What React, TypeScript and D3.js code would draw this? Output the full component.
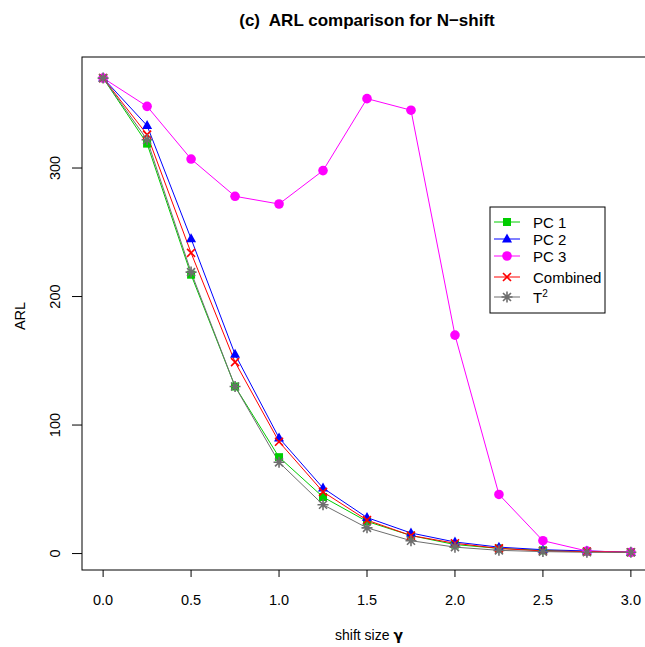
import React, { useEffect, useRef } from 'react'
import * as d3 from 'd3'

const shifts = [0, 0.25, 0.5, 0.75, 1, 1.25, 1.5, 1.75, 2, 2.25, 2.5, 2.75, 3]
const pc1 = [370, 319, 217, 130, 75, 44, 25, 14, 7, 4, 2.5, 1.5, 1]
const pc2 = [370, 333, 245, 155, 90, 51, 28, 16, 9, 5, 3, 2, 1]
const pc3 = [370, 348, 307, 278, 272, 298, 354, 345, 170, 46, 10, 2, 1]
const combined = [370, 326, 234, 149, 87, 48, 26, 14, 8, 4, 2, 1.5, 1]
const t2 = [370, 322, 219, 130, 71, 38, 20, 10, 5, 2.5, 1.5, 1, 1]

const xTicks = [0, 0.5, 1, 1.5, 2, 2.5, 3]
const yTicks = [0, 100, 200, 300]

const series = [
  { name: 'PC 1', values: pc1, color: '#00cd00', shape: 'square' },
  { name: 'PC 2', values: pc2, color: '#0000ff', shape: 'triangle' },
  { name: 'PC 3', values: pc3, color: '#ff00ff', shape: 'circle' },
  { name: 'Combined', values: combined, color: '#ff0000', shape: 'cross' },
  { name: 'T', values: t2, color: '#6e6e6e', shape: 'star' },
]

function drawMarker(g: any, shape: string, x: number, y: number, color: string) {
  if (shape === 'square') {
    g.append('rect').attr('x', x - 4).attr('y', y - 4).attr('width', 8).attr('height', 8).attr('fill', color)
  } else if (shape === 'triangle') {
    g.append('path').attr('d', `M${x},${y - 5.5}L${x + 5},${y + 3.5}L${x - 5},${y + 3.5}Z`).attr('fill', color)
  } else if (shape === 'circle') {
    g.append('circle').attr('cx', x).attr('cy', y).attr('r', 4.8).attr('fill', color)
  } else if (shape === 'cross') {
    g.append('path').attr('d', `M${x - 4},${y - 4}L${x + 4},${y + 4}M${x - 4},${y + 4}L${x + 4},${y - 4}`)
      .attr('stroke', color).attr('stroke-width', 1.6)
  } else {
    g.append('path')
      .attr('d', `M${x - 4},${y - 4}L${x + 4},${y + 4}M${x - 4},${y + 4}L${x + 4},${y - 4}M${x - 5.5},${y}L${x + 5.5},${y}M${x},${y - 5.5}L${x},${y + 5.5}`)
      .attr('stroke', color).attr('stroke-width', 1.6)
  }
}

export default function App() {
  const ref = useRef<SVGSVGElement>(null)

  useEffect(() => {
    const svg = d3.select(ref.current)
    svg.selectAll('*').remove()
    const font = 'Liberation Sans, Arial, Helvetica, sans-serif'

    const left = 82, right = 652, top = 57, bottom = 570
    const x = d3.scaleLinear().domain([-0.12, 3.12]).range([left, right])
    const y = d3.scaleLinear().domain([-12.8, 386.4]).range([bottom, top])

    svg.append('rect').attr('width', 645).attr('height', 647).attr('fill', 'white')

    // plot box
    svg.append('rect').attr('x', left).attr('y', top).attr('width', right - left).attr('height', bottom - top)
      .attr('fill', 'none').attr('stroke', 'black').attr('stroke-width', 1)

    // x axis
    const xa = svg.append('g')
    xTicks.forEach(t => {
      xa.append('line').attr('x1', x(t)).attr('x2', x(t)).attr('y1', bottom).attr('y2', bottom + 7)
        .attr('stroke', 'black')
      xa.append('text').attr('x', x(t)).attr('y', 605).attr('text-anchor', 'middle')
        .attr('font-family', font).attr('font-size', 14.5).text(d3.format('.1f')(t))
    })

    // y axis
    const ya = svg.append('g')
    yTicks.forEach(t => {
      ya.append('line').attr('x1', left - 10).attr('x2', left).attr('y1', y(t)).attr('y2', y(t))
        .attr('stroke', 'black')
      ya.append('text').attr('transform', `translate(60,${y(t)}) rotate(-90)`)
        .attr('text-anchor', 'middle').attr('font-family', font).attr('font-size', 14.5).text(t)
    })

    svg.append('text').attr('transform', `translate(25,316) rotate(-90)`)
      .attr('text-anchor', 'middle').attr('font-family', font).attr('font-size', 14.5).text('ARL')

    const xl = svg.append('text').attr('x', 369).attr('y', 640).attr('text-anchor', 'middle')
      .attr('font-family', font).attr('font-size', 14)
    xl.append('tspan').text('shift size ')
    xl.append('tspan').attr('font-family', 'DejaVu Sans, sans-serif').attr('font-weight', 'bold')
      .attr('font-size', 14).text('γ')

    svg.append('text').attr('x', 367).attr('y', 26).attr('text-anchor', 'middle')
      .attr('font-family', font).attr('font-size', 17).attr('font-weight', 'bold')
      .style('white-space', 'pre')
      .text('(c)  ARL comparison for N\u2212shift')

    const line = d3.line<number>().x((d, i) => x(shifts[i])).y(d => y(d))
    const plot = svg.append('g')
    series.forEach(s => {
      plot.append('path').attr('d', line(s.values)).attr('fill', 'none')
        .attr('stroke', s.color).attr('stroke-width', 1)
    })
    series.forEach(s => {
      const g = plot.append('g')
      s.values.forEach((v, i) => drawMarker(g, s.shape, x(shifts[i]), y(v), s.color))
    })

    // legend
    const lg = svg.append('g')
    lg.append('rect').attr('x', 490).attr('y', 207).attr('width', 115).attr('height', 106)
      .attr('fill', 'white').attr('stroke', 'black')
    const rows = [222, 239, 256, 277, 297]
    series.forEach((s, i) => {
      const ry = rows[i]
      lg.append('line').attr('x1', 494).attr('x2', 520).attr('y1', ry).attr('y2', ry).attr('stroke', s.color)
      drawMarker(lg, s.shape, 507, ry, s.color)
      const t = lg.append('text').attr('x', 533).attr('y', ry + 5.5).attr('font-family', font)
        .attr('font-size', 15).text(s.name)
      if (s.name === 'T') {
        t.append('tspan').attr('font-size', 10).attr('dy', -6).text('2')
      }
    })
  }, [])

  return (
    <svg ref={ref} width={645} height={647} style={{ position: 'absolute', left: 0, top: 0 }} />
  )
}
